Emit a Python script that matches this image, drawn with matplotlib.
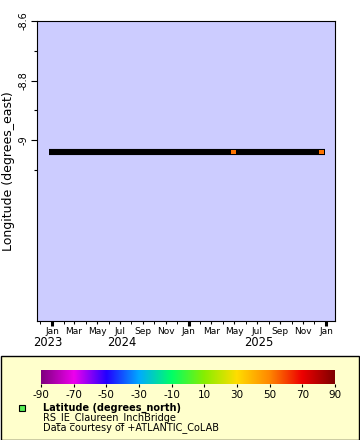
import numpy as np
import matplotlib
matplotlib.use("Agg")
import matplotlib.pyplot as plt
import matplotlib.dates as mdates
from matplotlib.colors import LinearSegmentedColormap
from matplotlib.patches import Rectangle
import datetime as dt

# ---- data ----
track_dates = [dt.datetime(2022, 12, 24), dt.datetime(2024, 12, 29)]
track_lon = [-9.04, -9.04]
colored_dates = [dt.datetime(2024, 4, 30), dt.datetime(2024, 12, 21)]
colored_lon = [-9.04, -9.04]
colored_lat = [52.9, 52.9]

cbar_ticks = [-90, -70, -50, -30, -10, 10, 30, 50, 70, 90]
cmap_colors = ["#800080", "#ee00ee", "#2200ff", "#00aaff", "#00ff66",
               "#88ee00", "#ffdd00", "#ff8800", "#ee0000", "#800000"]
y_major = [-8.6, -8.8, -9.0]
y_major_labels = ["-8.6", "-8.8", "-9"]
y_minor = [-8.7, -8.9, -9.1]
year_labels = ["2023", "2024", "2025"]
year_label_dates = [dt.datetime(2022, 12, 21), dt.datetime(2023, 7, 7), dt.datetime(2024, 7, 6)]

cmap = LinearSegmentedColormap.from_list(
    "erd_rainbow", list(zip(np.linspace(0, 1, len(cmap_colors)), cmap_colors)))
norm = matplotlib.colors.Normalize(vmin=-90, vmax=90)

W, H = 360, 440
fig = plt.figure(figsize=(W / 100, H / 100), dpi=100)
fig.patch.set_facecolor("white")

def fx(px):
    return px / W

def fy(py):
    return 1 - py / H

# main axes
ax = fig.add_axes([fx(37), fy(321), fx(335) - fx(37), fy(21) - fy(321)])
ax.set_facecolor("#ccccff")
for s in ax.spines.values():
    s.set_linewidth(0.8)
    s.set_color("black")

ax.plot(track_dates, track_lon, color="black", linewidth=4.4,
        solid_capstyle="butt", zorder=2)
ax.scatter(colored_dates, colored_lon, c=colored_lat, cmap=cmap, norm=norm,
           marker="s", s=12, linewidths=0, zorder=3)

ax.set_xlim(dt.datetime(2022, 11, 22), dt.datetime(2025, 1, 25))
ax.set_ylim(-9.608, -8.6)

ax.set_yticks(y_major)
ax.set_yticklabels(y_major_labels, rotation=90, va="center", fontsize=7)
ax.set_yticks(y_minor, minor=True)
ax.tick_params(axis="y", which="major", length=4, width=0.8, pad=2)
ax.tick_params(axis="y", which="minor", length=2.5, width=0.8)
ax.set_ylabel("Longitude (degrees_east)", fontsize=9)
ax.yaxis.set_label_coords((15 - 37) / 298, 0.5)

ax.xaxis.set_major_locator(mdates.MonthLocator(bymonth=[1, 3, 5, 7, 9, 11]))
ax.xaxis.set_major_formatter(mdates.DateFormatter("%b"))
ax.xaxis.set_minor_locator(mdates.MonthLocator())
ax.tick_params(axis="x", which="major", length=2.5, width=0.8, labelsize=6.5, pad=2)
ax.tick_params(axis="x", which="minor", length=2, width=0.7)
# thicker ticks at January
for d in [dt.datetime(2023, 1, 1), dt.datetime(2024, 1, 1), dt.datetime(2025, 1, 1)]:
    ax.plot([d, d], [0, -0.016], transform=ax.get_xaxis_transform(), color="black",
            linewidth=2.2, clip_on=False, solid_capstyle="butt")

trans = matplotlib.transforms.blended_transform_factory(ax.transData, fig.transFigure)
for lab, d in zip(year_labels, year_label_dates):
    fig.text(mdates.date2num(d), fy(342.5), lab, transform=trans, ha="center", va="center",
             fontsize=8.3)

# legend box
fig.patches.append(Rectangle((fx(0.5), fy(439.5)), fx(359) - fx(0.5), fy(356) - fy(439.5),
                             transform=fig.transFigure, facecolor="#ffffcc",
                             edgecolor="black", linewidth=1, zorder=-5))

cax = fig.add_axes([fx(41), fy(384), fx(335) - fx(41), fy(370) - fy(384)])
cax.set_zorder(2)
grad = np.linspace(-90, 90, 512).reshape(1, -1)
cax.imshow(grad, aspect="auto", cmap=cmap, norm=norm, extent=[-90, 90, 0, 1])
cax.set_xlim(-90, 90)
cax.set_yticks([])
cax.set_xticks(cbar_ticks)
cax.set_xticklabels([str(t) for t in cbar_ticks], fontsize=7.5)
cax.tick_params(axis="x", length=2, width=0.8, pad=2.5)
for s in cax.spines.values():
    s.set_visible(False)

fig.patches.append(Rectangle((fx(18.5), fy(411)), fx(6), fy(405) - fy(411),
                             transform=fig.transFigure, facecolor="#55ee55",
                             edgecolor="black", linewidth=0.8, zorder=3))
fig.text(fx(43), fy(408), "Latitude (degrees_north)", fontsize=7, fontweight="bold",
         va="center", ha="left")
fig.text(fx(43), fy(418), "RS_IE_Claureen_InchBridge", fontsize=7, va="center", ha="left")
fig.text(fx(43), fy(428), "Data courtesy of +ATLANTIC_CoLAB", fontsize=7, va="center", ha="left")

fig.savefig("out.png", dpi=100)
